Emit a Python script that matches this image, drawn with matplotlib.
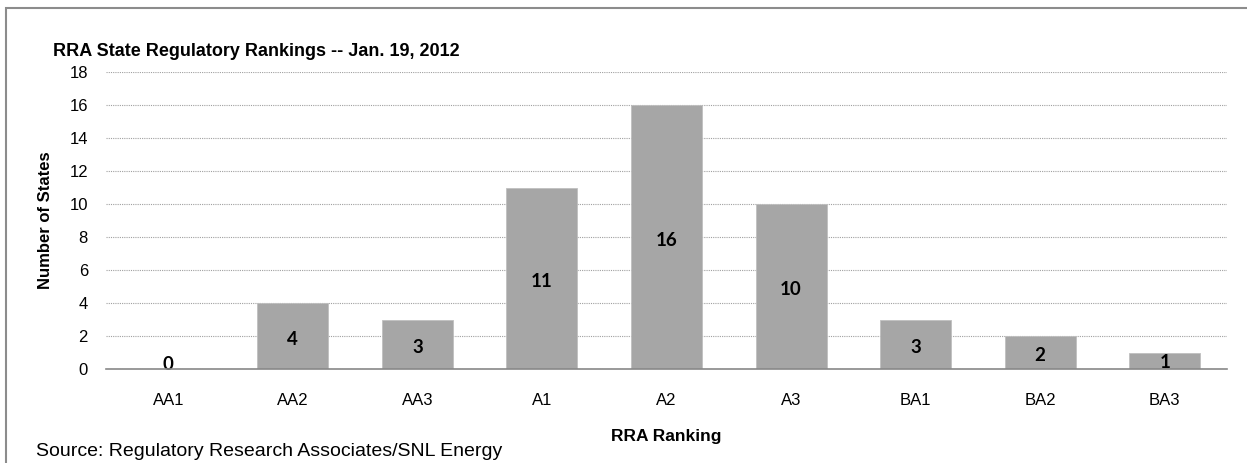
import numpy as np
import matplotlib
matplotlib.use('Agg')
import matplotlib.pyplot as plt
from matplotlib.patches import Rectangle

plt.rcParams['font.family'] = ['Liberation Sans', 'DejaVu Sans']

#data
rankings = ['AA1', 'AA2', 'AA3', 'A1', 'A2', 'A3', 'BA1', 'BA2', 'BA3']
num_states = [0, 4, 3, 11, 16, 10, 3, 2, 1]
yticks = [0, 2, 4, 6, 8, 10, 12, 14, 16, 18]

fig = plt.figure(figsize=(12.47, 4.63), dpi=100)
ax = fig.add_axes([106/1247, 1 - 369/463, 1121/1247, 297/463])

x = np.arange(len(rankings))
ax.bar(x, num_states, width=0.57, color='#A6A6A6', edgecolor='#BFBFBF', linewidth=0.6, zorder=2)

#value labels inside bars (small bars push the label toward the base)
for xi, v in zip(x, num_states):
    yl = max(v/2 - 0.2, 0.42*v, 0.3)
    ax.text(xi, yl, str(v), ha='center', va='center', fontsize=13.5,
            fontweight='bold', family=['Lato', 'DejaVu Sans'], zorder=3)

ax.set_xlim(-0.5, len(rankings) - 0.5)
ax.set_ylim(0, 18)
ax.set_yticks(yticks)
ax.set_xticks(x)
ax.set_xticklabels(rankings, fontsize=12)
ax.tick_params(axis='y', labelsize=12, length=0, pad=13)
ax.tick_params(axis='x', length=0, pad=17)

ax.yaxis.grid(True, linestyle=(0, (1, 1)), color='#A0A0A0', linewidth=0.8, zorder=0)
for s in ['top', 'right', 'left']:
    ax.spines[s].set_visible(False)
ax.spines['bottom'].set_color('#888888')
ax.spines['bottom'].set_linewidth(1.2)
ax.spines['bottom'].set_zorder(4)

ax.set_ylabel('Number of States', fontsize=12, fontweight='bold', labelpad=12)
ax.set_xlabel('RRA Ranking', fontsize=12.5, fontweight='bold', labelpad=15.5)

fig.text(53/1247, 1 - 51/463, 'RRA State Regulatory Rankings -- Jan. 19, 2012',
         fontsize=13, fontweight='bold', ha='left', va='center')
fig.text(36/1247, 1 - 452/463, 'Source: Regulatory Research Associates/SNL Energy',
         fontsize=14, ha='left', va='center')

#outer frame
fig.patches.append(Rectangle((6/1247, -0.1), 1.2, 1.1 - 8/463,
                             transform=fig.transFigure, fill=False,
                             edgecolor='#8C8C8C', linewidth=1.5))

plt.savefig('out.png', dpi=100)
